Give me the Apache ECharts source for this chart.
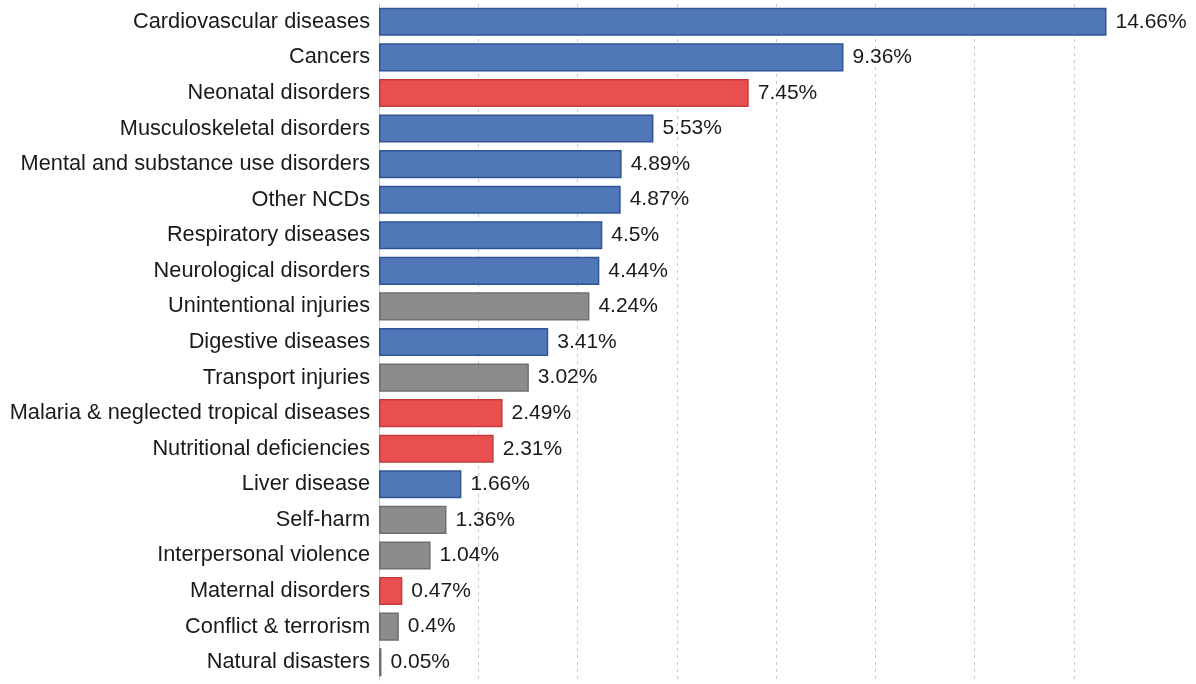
<!DOCTYPE html>
<html><head><meta charset="utf-8">
<script src="https://cdn.jsdelivr.net/npm/echarts@6/dist/echarts.min.js"></script>
<style>html,body{margin:0;padding:0;background:#fff}#c{width:1196px;height:684px}</style>
</head><body><div id="c"></div>
<script>
const categories = ["Cardiovascular diseases","Cancers","Neonatal disorders","Musculoskeletal disorders","Mental and substance use disorders","Other NCDs","Respiratory diseases","Neurological disorders","Unintentional injuries","Digestive diseases","Transport injuries","Malaria & neglected tropical diseases","Nutritional deficiencies","Liver disease","Self-harm","Interpersonal violence","Maternal disorders","Conflict & terrorism","Natural disasters"];
const values = [14.66,9.36,7.45,5.53,4.89,4.87,4.5,4.44,4.24,3.41,3.02,2.49,2.31,1.66,1.36,1.04,0.47,0.4,0.05];
const groups = ["ncd","ncd","cmnn","ncd","ncd","ncd","ncd","ncd","inj","ncd","inj","cmnn","cmnn","ncd","inj","inj","cmnn","inj","inj"];
const fills = {ncd:"#5078b9", cmnn:"#e85050", inj:"#8c8c8c"};
const borders = {ncd:"#2f5597", cmnn:"#c53a3a", inj:"#6f6f6f"};
const data = values.map((v,i)=>({value:v,itemStyle:{color:fills[groups[i]],borderColor:borders[groups[i]],borderWidth:1.5}}));
const chart = echarts.init(document.getElementById('c'));
chart.setOption({
  animation:false,
  grid:{left:379,right:23,top:4,bottom:4,containLabel:false},
  xAxis:{type:'value',min:0,max:16,interval:2,
    axisLabel:{show:false},axisTick:{show:false},axisLine:{show:false},
    splitLine:{show:true,showMinLine:false,showMaxLine:false,lineStyle:{color:'#c8c8c8',type:[3,4],width:1}}},
  yAxis:{type:'category',inverse:true,data:categories,
    axisTick:{show:false},axisLine:{show:true,lineStyle:{color:'#c8c8c8',width:1}},
    axisLabel:{margin:9,color:'#1a1a1a',fontSize:21.75,fontFamily:'Liberation Sans, Arial, sans-serif'}},
  series:[{type:'bar',data:data,barCategoryGap:'21%',
    label:{show:true,position:'right',distance:9,color:'#1a1a1a',fontSize:21,fontFamily:'Liberation Sans, Arial, sans-serif',formatter:p=>p.value+'%'}}]
});
</script></body></html>
